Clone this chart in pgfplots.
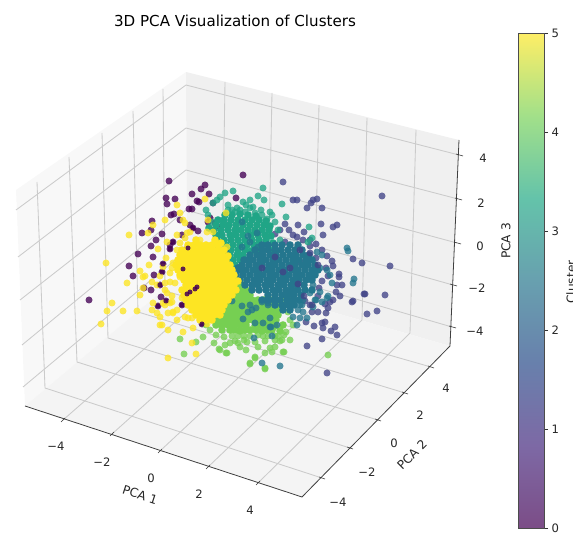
\documentclass[border=0pt]{standalone}
\usepackage{pgfplots}
\pgfplotsset{compat=1.18}
\usepackage{fontspec}
\setmainfont{DejaVu Sans}
\definecolor{cA}{RGB}{68,1,84}
\definecolor{cB}{RGB}{65,68,135}
\definecolor{cC}{RGB}{36,118,142}
\definecolor{cD}{RGB}{32,165,134}
\definecolor{cE}{RGB}{118,207,82}
\definecolor{cF}{RGB}{253,229,35}
\definecolor{gridc}{RGB}{203,203,203}
\definecolor{paneL}{RGB}{248,248,248}
\definecolor{paneR}{RGB}{240,240,240}
\definecolor{paneF}{RGB}{244,244,244}
\pgfplotsset{
  pts/.style={only marks, mark=*, mark size=3.5pt, forget plot,
    mark options={draw=#1, draw opacity=0, line width=0.1pt, fill=#1, fill opacity=.78}},
  mass/.style={only marks, mark=*, mark size=3.7pt, forget plot,
    mark options={draw=#1, line width=0.1pt, fill=#1}},
  speck/.style={only marks, mark=*, mark size=2.5pt, forget plot,
    mark options={draw=#1, draw opacity=0, line width=0.1pt, fill=#1, fill opacity=.85}},
  gl/.style={gridc, line width=0.85pt, forget plot, no marks},
  ax/.style={black!75, line width=0.8pt, forget plot, no marks},
  tk/.style={black!80, line width=0.6pt, forget plot, no marks},
  pane/.style={draw=none, fill=#1, forget plot, no marks},
}
\begin{document}
\begin{tikzpicture}
\path[use as bounding box] (0,0) rectangle (573pt,534pt);
\begin{axis}[at={(0,0)}, anchor=south west, width=573pt, height=534pt, scale only axis,
  hide axis, clip=false, xmin=0, xmax=573, ymin=0, ymax=534, y dir=reverse]
% panes
\addplot[pane=paneL] coordinates {(16,190)(186,72)(187,270)(25,406)} --cycle;
\addplot[pane=paneR] coordinates {(186,72)(459,140)(450,346)(187,270)} --cycle;
\addplot[pane=paneF] coordinates {(25,406)(187,270)(450,346)(302,497)} --cycle;
% grid: y = const
\addplot[gl] coordinates {(37,182)(45,388)(322,478)};
\addplot[gl] coordinates {(69,157)(77,362)(350,448)};
\addplot[gl] coordinates {(102,133)(108,338)(378,420)};
\addplot[gl] coordinates {(133,111)(138,312)(405,393)};
\addplot[gl] coordinates {(163,89)(165,291)(431,367)};
% grid: x = const
\addplot[gl] coordinates {(225,82)(222,281)(63,420)};
\addplot[gl] coordinates {(272,93)(268,294)(112,434)};
\addplot[gl] coordinates {(319,105)(314,307)(160,451)};
\addplot[gl] coordinates {(367,118)(362,320)(208,467)};
\addplot[gl] coordinates {(416,130)(410,333)(258,483)};
% grid: z = const
\addplot[gl] coordinates {(16,210)(186,85)(459,155)};
\addplot[gl] coordinates {(18,257)(186,128)(458,199)};
\addplot[gl] coordinates {(20,300)(186,170)(457,243)};
\addplot[gl] coordinates {(22,345)(186,210)(453,285)};
\addplot[gl] coordinates {(23,387)(187,250)(452,327)};
% axes
\addplot[ax] coordinates {(25,406)(302,497)(450,346)(459,140)};
% ticks
\addplot[tk] coordinates {(61,422)(65,418)};
\addplot[tk] coordinates {(110,436)(114,432)};
\addplot[tk] coordinates {(158,453)(162,449)};
\addplot[tk] coordinates {(206,469)(210,465)};
\addplot[tk] coordinates {(256,485)(260,481)};
\addplot[tk] coordinates {(319,477)(325,479)};
\addplot[tk] coordinates {(347,447)(353,449)};
\addplot[tk] coordinates {(375,419)(381,421)};
\addplot[tk] coordinates {(402,392)(408,394)};
\addplot[tk] coordinates {(428,366)(434,368)};
\addplot[tk] coordinates {(456,154)(463,156)};
\addplot[tk] coordinates {(455,198)(462,200)};
\addplot[tk] coordinates {(454,242)(461,244)};
\addplot[tk] coordinates {(450,284)(457,286)};
\addplot[tk] coordinates {(449,326)(456,328)};
% cluster 0, under the others
\addplot[pts=cA] coordinates {
(169,181)(166,198)(175,199)(167,204)(192,194)(201,189)(205,185)(209,194)(197,201)(199,202)
(171,215)(174,214)(189,209)(192,209)(152,221)(151,230)(142,233)(162,234)(156,240)(151,246)
(138,254)(153,257)(129,266)(133,276)(154,275)(170,249)(173,242)(187,249)(193,228)(190,225)
(180,220)(163,264)(162,272)(160,285)(151,290)(144,288)(89,300)(161,297)(166,301)(158,306)
(182,305)(202,324)(243,175)(236,198)(213,203)(182,235)(170,245)(215,223)(210,218)(217,226)
(208,222)(198,231)};
% cluster 1
\addplot[pts=cB] coordinates {
(283,182)(382,196)(297,200)(293,200)(313,200)(317,199)(311,203)(307,208)(322,208)(321,224)
(337,225)(333,227)(323,235)(298,225)(285,224)(289,230)(280,230)(275,234)(285,242)(297,237)
(353,259)(362,263)(390,266)(327,256)(332,261)(333,266)(339,274)(339,277)(322,281)(337,285)
(342,285)(319,288)(364,294)(385,295)(353,301)(333,300)(330,302)(377,311)(367,314)(326,313)
(322,323)(325,322)(335,327)(331,331)(323,328)(337,335)(322,339)(307,346)(310,305)(305,301)
(327,373)(303,240)(310,246)(322,250)(316,258)(326,268)(318,296)(325,304)(312,312)(300,262)
(352,302)(365,294)(340,296)(310,240)(268,226)(255,232)(293,235)(304,232)(316,244)(328,276)
(336,292)(318,312)(328,308)(306,322)(314,326)};
% cluster 4
\addplot[mass=cE] coordinates {
(232,285)(238,285)(244,285)(228,290)(234,290)(240,290)(246,290)(226,295)(232,295)(238,295)(244,295)(250,295)
(222,300)(228,300)(234,300)(240,300)(246,300)(252,300)(258,300)(264,300)(270,300)(276,300)
(218,305)(224,305)(230,305)(236,305)(242,305)(248,305)(254,305)(260,305)(266,305)(272,305)(278,305)(284,305)
(214,310)(220,310)(226,310)(232,310)(238,310)(244,310)(250,310)(256,310)(262,310)(268,310)(274,310)(280,310)
(212,315)(218,315)(224,315)(230,315)(236,315)(242,315)(248,315)(254,315)(260,315)(266,315)(272,315)(278,315)
(214,320)(220,320)(226,320)(232,320)(238,320)(243,320)(248,320)(253,320)(258,320)(263,320)(268,320)(272,320)(276,320)
(216,325)(222,325)(228,325)(234,325)(240,325)(246,325)(255,326)(260,325)(265,325)(270,325)(275,326)(283,325)
(222,330)(230,330)(235,330)(240,331)(245,330)(250,330)(256,330)(262,331)(267,330)(272,330)(280,331)};
\addplot[pts=cE] coordinates {
(232,336)(238,336)(244,336)(250,336)(258,335)(263,336)(268,336)(275,336)(284,335)(235,341)(244,340)(255,342)(265,341)(275,340)
(220,350)(226,353)(250,363)(255,357)(265,368)(272,352)(280,341)(284,352)(328,355)
(180,339)(196,342)(203,337)(184,354)(219,349)(227,353)(250,364)(230,343)(238,343)(247,342)
(265,369)(255,358)(283,352)(270,348)(282,340)(293,325)
(208,318)(206,325)(210,330)(216,335)(224,337)(288,312)(290,320)(286,332)(278,336)(292,305)
(288,298)(282,298)(240,347)(258,347)(246,350)(265,353)(275,347)(290,340)(214,343)(225,345)};
% cluster 3
\addplot[pts=cD] coordinates {
(263,188)(233,191)(225,193)(220,197)(217,200)(213,203)(258,196)(264,200)(243,202)(246,205)
(282,204)(237,208)(240,210)(232,210)(253,207)(261,210)(255,213)(262,215)(286,217)(267,219)
(309,227)(206,210)(312,238)(308,242)(208,215)(212,222)(272,215)(275,222)(278,230)(280,240)
(250,208)(245,212)(228,210)(235,212)(270,212)(250,200)(228,205)};
\addplot[mass=cD] coordinates {
(225,215)(232,215)(240,214)(248,215)(256,216)(209,228)(273,243)(270,250)(258,252)
(228,262)(235,265)(222,255)(218,252)
(218,220)(224,220)(231,220)(238,220)(245,220)(252,220)(259,220)(266,221)
(216,225)(223,225)(229,225)(236,225)(243,225)(250,225)(257,225)(264,225)(270,226)
(214,230)(221,230)(228,230)(235,230)(241,230)(248,230)(255,230)(262,230)(269,230)
(216,235)(222,235)(230,235)(236,235)(243,235)(251,235)(258,235)(265,235)(271,236)
(217,240)(224,240)(231,240)(238,240)(245,240)(252,240)(259,240)(266,240)
(218,245)(226,245)(233,245)(240,245)(247,245)(254,245)(260,246)
(224,250)(231,250)(238,250)(245,250)(251,251)(230,255)(237,255)(243,255)(233,260)(240,260)};
% cluster 2
\addplot[mass=cC] coordinates {
(262,245)(268,245)(275,245)(282,245)(290,245)(298,245)
(255,250)(262,250)(268,250)(275,250)(281,250)(288,250)(295,250)(302,250)
(250,255)(257,255)(263,255)(270,255)(276,255)(283,255)(290,255)(296,255)(303,255)(309,255)
(244,260)(247,260)(253,260)(260,260)(266,260)(273,260)(279,260)(286,260)(293,260)(299,260)(306,260)(312,260)
(238,268)(242,265)(249,265)(256,265)(262,265)(269,265)(275,265)(282,265)(289,265)(295,265)(302,265)(308,265)(315,265)
(240,270)(246,270)(253,270)(259,270)(266,270)(272,270)(279,270)(285,270)(292,270)(298,270)(305,270)(312,270)(318,270)
(236,275)(243,275)(250,275)(257,275)(263,275)(270,275)(276,275)(283,275)(289,275)(296,275)(302,275)(309,275)(315,275)
(240,280)(247,280)(254,280)(260,280)(267,280)(273,280)(280,280)(286,280)(293,280)(299,280)(306,280)(312,280)
(245,285)(252,285)(258,285)(265,285)(271,285)(278,285)(284,285)(291,285)(297,285)(304,285)
(252,290)(259,290)(266,290)(273,290)(279,290)(286,290)(292,290)(298,290)(305,290)(312,290)
(268,295)(275,295)(282,295)(288,295)(294,295)(301,295)
(262,300)(268,300)(274,300)(280,300)(287,300)(293,300)(299,300)
(275,305)(282,305)(288,305)(294,305)(283,310)(290,310)};
\addplot[pts=cC] coordinates {
(347,248)(348,251)(354,279)(353,283)(262,363)(280,366)
(250,305)(256,308)(248,312)(262,302)(232,301)(242,306)(252,310)(243,319)(255,323)(263,323)
(270,318)(277,325)(270,327)(272,336)(254,338)(293,317)(300,318)(307,318)(297,325)(268,305)
(302,305)(271,327)(268,303)(320,292)(328,296)(316,300)
(317,252)(322,255)(320,268)(327,270)(330,275)(332,283)(313,285)(327,298)(322,302)(310,293)
(315,300)(303,300)(300,305)(298,310)(303,312)(313,307)(308,256)
(242,247)(250,242)(258,247)(257,233)(242,222)(248,236)(226,252)};
% cluster 1, on top of cluster 2
\addplot[pts=cB] coordinates {(290,268)(275,257)(310,253)(318,265)(298,284)(304,296)(312,305)(300,250)(283,272)(262,268)};
% cluster 5
\addplot[pts=cF] coordinates {
(129,235)(106,263)(112,303)(107,311)(123,311)(137,311)(101,324)(127,283)(140,271)(149,265)
(158,249)(177,205)(205,199)(165,220)(153,225)(148,233)(226,213)(143,277)(140,295)(152,282)
(160,276)(166,258)(167,242)(177,235)(187,233)(185,223)(207,232)(213,232)(208,220)(180,213)
(153,303)(157,313)(162,325)(177,320)(192,318)(207,324)(186,263)(168,358)(196,354)(192,343)
(160,325)(168,330)(183,332)(193,328)(173,312)(165,290)(170,282)(172,296)(165,305)(172,268)
(183,220)(190,232)(185,238)(200,240)(177,250)(180,243)(173,263)(163,267)(170,273)(175,283)
(165,283)(157,285)(145,276)(143,288)(167,293)(172,302)(163,303)(152,310)(160,317)(168,313)
(177,310)(182,298)(193,310)(185,317)(180,277)(207,247)(227,247)(223,250)(188,318)(200,317)
(170,303)(173,313)};
\addplot[mass=cF] coordinates {
(215,240)(221,243)(196,240)
(188,245)(194,245)(200,245)(206,245)(212,245)(218,245)
(182,250)(188,250)(194,250)(200,250)(206,250)(212,250)(218,250)(224,250)
(180,255)(186,255)(192,255)(198,255)(204,255)(210,255)(216,255)(222,255)(228,256)
(178,260)(184,260)(190,260)(196,260)(202,260)(208,260)(214,260)(220,260)(226,260)
(176,265)(182,265)(188,265)(194,265)(200,265)(206,265)(212,265)(218,265)(224,265)(230,265)
(178,270)(184,270)(190,270)(196,270)(202,270)(208,270)(214,270)(220,270)(226,270)(232,270)
(180,275)(186,275)(192,275)(198,275)(204,275)(210,275)(216,275)(222,275)(228,275)(234,275)
(184,280)(190,280)(196,280)(202,280)(208,280)(214,280)(220,280)(226,280)(232,280)(238,281)
(186,285)(192,285)(198,285)(204,285)(210,285)(216,285)(222,285)(228,285)(234,285)
(182,290)(188,290)(194,290)(200,290)(206,290)(212,290)(218,290)(224,290)(230,290)(236,290)
(184,295)(190,295)(196,295)(202,295)(208,295)(214,295)(220,295)(226,295)(232,295)
(186,300)(192,300)(198,300)(204,300)(210,300)(216,300)(222,300)(228,300)
(188,305)(194,305)(200,305)(206,305)(212,305)(218,305)(224,305)
(192,310)(198,310)(204,310)(210,310)(216,310)(222,310)
(196,315)(202,315)(208,315)(214,315)(220,315)(200,320)(206,320)(212,320)};
% cluster 0, on top of cluster 5
\addplot[speck=cA] coordinates {(188,248)(197,287)(183,269)(187,294)(163,264)(162,272)(170,249)(193,228)(173,242)(195,289)(160,285)(166,301)(158,306)(182,305)(202,324)(190,292)};
% labels
\node[font=\fontsize{15.1}{17}\selectfont] at (axis cs:235,21) {3D PCA Visualization of Clusters};
\tikzset{tl/.style={font=\fontsize{11.6}{13}\selectfont, text=black!85},
  ll/.style={font=\fontsize{12.2}{14}\selectfont, text=black!85}}
\node[tl] at (axis cs:56,446) {−4};
\node[tl] at (axis cs:102,462) {−2};
\node[tl] at (axis cs:151,478) {0};
\node[tl] at (axis cs:199,494) {2};
\node[tl] at (axis cs:250,510) {4};
\node[tl] at (axis cs:338,502) {−4};
\node[tl] at (axis cs:367,472) {−2};
\node[tl] at (axis cs:394,443) {0};
\node[tl] at (axis cs:420,415) {2};
\node[tl] at (axis cs:446,388) {4};
\node[tl] at (axis cs:483,158) {4};
\node[tl] at (axis cs:481,203) {2};
\node[tl] at (axis cs:480,246) {0};
\node[tl] at (axis cs:477,288) {−2};
\node[tl] at (axis cs:475,331) {−4};
\node[ll, rotate=-18] at (axis cs:140,495) {PCA 1};
\node[ll, rotate=45] at (axis cs:412,455) {PCA 2};
\node[ll, rotate=90] at (axis cs:506,241) {PCA 3};
\node[ll, rotate=90] at (axis cs:571,282) {Cluster};
\end{axis}
\begin{axis}[at={(518.5pt,6pt)}, anchor=south west, width=26pt, height=495pt, scale only axis,
  xmin=0, xmax=1, ymin=0, ymax=5, xtick=\empty, ytick={0,1,2,3,4,5}, axis y line*=right,
  axis x line*=bottom, axis line style={black!70, line width=0.6pt},
  ytick style={black!80, line width=0.6pt}, ytick align=outside,
  major tick length=3.5pt,
  yticklabel style={font=\fontsize{11.6}{13}\selectfont, text=black!85},
  /pgf/number format/assume math mode=true,
  view={0}{90},
  colormap={vira}{rgb255=(124,77,135) rgb255=(125,105,165) rgb255=(104,128,172) rgb255=(104,160,175)
    rgb255=(100,195,170) rgb255=(162,224,137) rgb255=(254,238,102)},
  point meta min=0, point meta max=5]
\addplot3[surf, shader=interp, point meta=y, forget plot] coordinates {
  (0,0,0) (1,0,0)

  (0,1,0) (1,1,0)

  (0,2,0) (1,2,0)

  (0,3,0) (1,3,0)

  (0,4,0) (1,4,0)

  (0,5,0) (1,5,0)
};
\end{axis}
\begin{axis}[at={(518.5pt,6pt)}, anchor=south west, width=26pt, height=495pt, scale only axis,
  xmin=0, xmax=1, ymin=0, ymax=5, xtick=\empty, ytick=\empty, axis line style={black!70, line width=0.6pt}]
\end{axis}
\end{tikzpicture}
\end{document}
